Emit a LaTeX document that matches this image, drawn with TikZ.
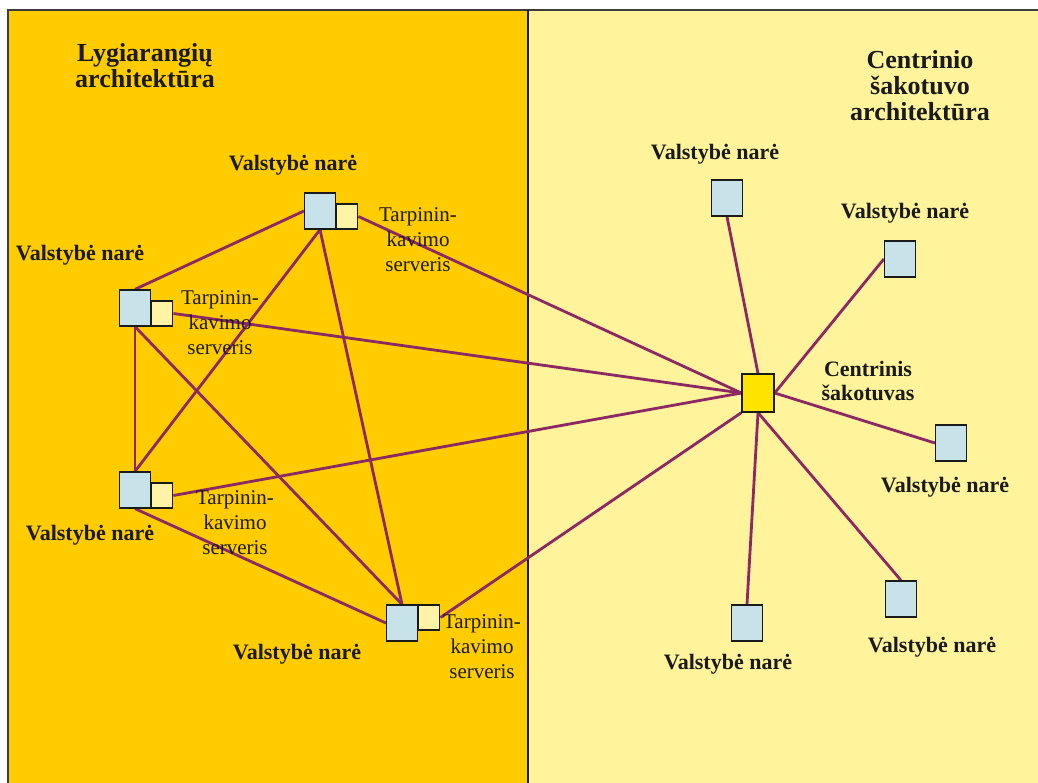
\documentclass[tikz,border=0pt]{standalone}
\usepackage{fontspec}
\setmainfont{Liberation Serif}
\definecolor{leftbg}{RGB}{255,204,0}
\definecolor{rightbg}{RGB}{255,243,155}
\definecolor{boxblue}{RGB}{200,226,234}
\definecolor{srvyel}{RGB}{255,243,166}
\definecolor{hubyel}{RGB}{255,228,0}
\definecolor{linkcol}{RGB}{140,40,100}
\definecolor{ink}{RGB}{26,26,26}
\pgfdeclarelayer{bg}
\pgfdeclarelayer{lines}
\pgfsetlayers{bg,lines,main}
\tikzset{
  member/.style={draw=ink, line width=1.3pt, fill=boxblue, inner sep=0pt, minimum width=31pt, minimum height=36pt},
  server/.style={draw=ink, line width=1.3pt, fill=srvyel, inner sep=0pt, minimum width=21pt, minimum height=25pt},
  hub/.style={draw=ink, line width=1.3pt, fill=hubyel, inner sep=0pt, minimum width=32pt, minimum height=38pt},
  link/.style={draw=linkcol, line width=2.8pt},
  lbl/.style={text=ink, font=\fontsize{22}{24}\selectfont\bfseries, inner sep=0pt},
  srvlbl/.style={text=ink, font=\fontsize{21}{25}\selectfont, align=center, inner sep=0pt},
  title/.style={text=ink, font=\fontsize{26}{26}\selectfont\bfseries, align=center, inner sep=0pt},
}
\begin{document}
\begin{tikzpicture}[x=1pt, y=-1pt]
\useasboundingbox (0,0) rectangle (1038,783);
\begin{pgfonlayer}{bg}
  \fill[leftbg] (8,10) rectangle (528,783);
  \fill[rightbg] (528,10) rectangle (1038,783);
  \draw[ink!85, line width=1.3pt] (8,783) -- (8,10) -- (1038,10);
  \draw[ink, line width=2pt] (528,10) -- (528,783);
\end{pgfonlayer}

% titles
\node[title] (tl) at (145,66) {Lygiarangių\\architektūra};
\node[title] (tr) at (920,86) {Centrinio\\šakotuvo\\architektūra};

% peer nodes
\node[member] (A) at (320,211) {};
\node[server, anchor=south west] (A2) at (A.south east) {};
\node[member] (B) at (135,308) {};
\node[server, anchor=south west] (B2) at (B.south east) {};
\node[member] (C) at (135,490) {};
\node[server, anchor=south west] (C2) at (C.south east) {};
\node[member] (D) at (402,623) {};
\node[server, anchor=north west] (D2) at (D.north east) {};

\node[lbl] (tA) at (293,165) {Valstybė narė};
\node[lbl] (tB) at (80,255) {Valstybė narė};
\node[lbl] (tC) at (90,535) {Valstybė narė};
\node[lbl] (tD) at (297,654) {Valstybė narė};

\node[srvlbl] (sA) at (418,240) {Tarpinin-\\kavimo\\serveris};
\node[srvlbl] (sB) at (220,323) {Tarpinin-\\kavimo\\serveris};
\node[srvlbl] (sC) at (235,523) {Tarpinin-\\kavimo\\serveris};
\node[srvlbl] (sD) at (482,647) {Tarpinin-\\kavimo\\serveris};

% hub side
\node[hub] (Z) at (758,393) {};
\node[lbl, align=center] (tZ) at (868,381) {Centrinis\\šakotuvas};
\node[member] (E) at (727,198) {};
\node[member] (F) at (900,259) {};
\node[member] (G) at (951,443) {};
\node[member] (H) at (901,599) {};
\node[member] (I) at (747,623) {};
\node[lbl] (tE) at (715,154) {Valstybė narė};
\node[lbl] (tF) at (905,213) {Valstybė narė};
\node[lbl] (tG) at (945,487) {Valstybė narė};
\node[lbl] (tH) at (932,647) {Valstybė narė};
\node[lbl] (tI) at (728,664) {Valstybė narė};

\begin{pgfonlayer}{lines}
  \draw[link] (A.west) -- (B.north);
  \draw[link] (A.south) -- (C.north);
  \draw[link] (A.south) -- (D.north);
  \draw[link] (B.south) -- (C.north);
  \draw[link] (B.south) -- (D.north);
  \draw[link] (C.south) -- (D.west);
  \draw[link] (A2.east) -- (Z.west);
  \draw[link] (B2.east) -- (Z.west);
  \draw[link] (C2.east) -- (Z.west);
  \draw[link] (D2.east) -- (Z.south west);
  \draw[link] (E.south) -- (Z.north);
  \draw[link] (F.west) -- (Z.east);
  \draw[link] (G.west) -- (Z.east);
  \draw[link] (H.north) -- (Z.south);
  \draw[link] (I.north) -- (Z.south);
\end{pgfonlayer}
\end{tikzpicture}
\end{document}
